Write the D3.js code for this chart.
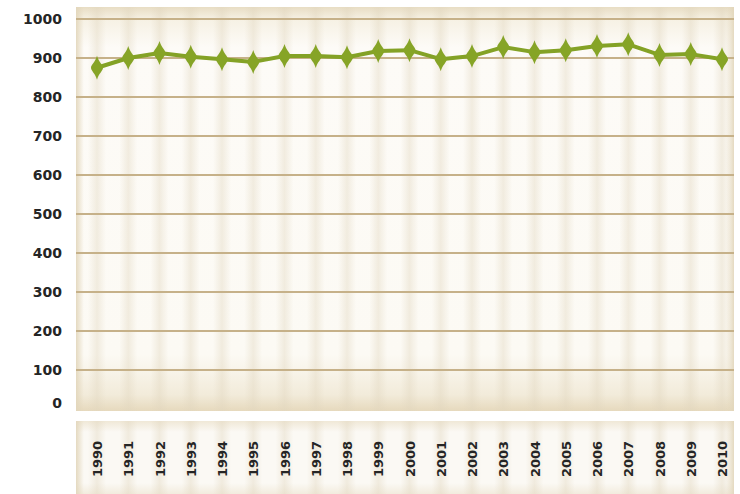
<!DOCTYPE html>
<html><head><meta charset="utf-8">
<script src="https://cdn.jsdelivr.net/npm/d3@7"></script>
<style>html,body{margin:0;padding:0;background:#fff;}svg{display:block;}</style>
</head><body>
<svg id="c" width="740" height="494"></svg>
<script>
const years = ["1990","1991","1992","1993","1994","1995","1996","1997","1998","1999","2000","2001","2002","2003","2004","2005","2006","2007","2008","2009","2010"];
const values = [875,900,913,903,897,890,905,905,902,918,920,897,905,928,915,920,931,935,908,910,897];
const yTicks = [0,100,200,300,400,500,600,700,800,900,1000];

const svg = d3.select("#c");
const plot = {x0:76, x1:734, y0:7, y1:411};
const box = {y0:421, y1:494};
const x = d3.scalePoint().domain(years).range([97,722]);
const y = d3.scaleLinear().domain([0,1000]).range([409,19]);

const defs = svg.append("defs");
const gv = defs.append("linearGradient").attr("id","gv").attr("x1",0).attr("x2",0).attr("y1",0).attr("y2",1);
gv.append("stop").attr("offset","0").attr("stop-color","#e8ddc4");
gv.append("stop").attr("offset","0.03").attr("stop-color","#f6f1e4");
gv.append("stop").attr("offset","0.10").attr("stop-color","#fdfbf7");
gv.append("stop").attr("offset","0.86").attr("stop-color","#fcfaf4");
gv.append("stop").attr("offset","0.96").attr("stop-color","#f2ebda");
gv.append("stop").attr("offset","1").attr("stop-color","#e6d9bd");
const gb = defs.append("linearGradient").attr("id","gb").attr("x1",0).attr("x2",0).attr("y1",0).attr("y2",1);
gb.append("stop").attr("offset","0").attr("stop-color","#f0e8d7");
gb.append("stop").attr("offset","0.15").attr("stop-color","#fbf9f4");
gb.append("stop").attr("offset","0.85").attr("stop-color","#fbf9f4");
gb.append("stop").attr("offset","1").attr("stop-color","#f2ecde");
const gs = defs.append("linearGradient").attr("id","gs").attr("x1",0).attr("x2",1).attr("y1",0).attr("y2",0);
gs.append("stop").attr("offset","0").attr("stop-color","#e0d5bd").attr("stop-opacity",0);
gs.append("stop").attr("offset","0.5").attr("stop-color","#e0d5bd").attr("stop-opacity",0.4);
gs.append("stop").attr("offset","1").attr("stop-color","#e0d5bd").attr("stop-opacity",0);
const ge = defs.append("linearGradient").attr("id","ge").attr("x1",0).attr("x2",1).attr("y1",0).attr("y2",0);
ge.append("stop").attr("offset","0").attr("stop-color","#e2d6bb").attr("stop-opacity",0.9);
ge.append("stop").attr("offset","0.012").attr("stop-color","#e2d6bb").attr("stop-opacity",0);
ge.append("stop").attr("offset","0.988").attr("stop-color","#e2d6bb").attr("stop-opacity",0);
ge.append("stop").attr("offset","1").attr("stop-color","#e2d6bb").attr("stop-opacity",0.9);
defs.append("filter").attr("id","soft").append("feGaussianBlur").attr("stdDeviation",0.5);

svg.append("rect").attr("x",plot.x0).attr("y",plot.y0).attr("width",plot.x1-plot.x0).attr("height",plot.y1-plot.y0).attr("fill","url(#gv)");
svg.append("rect").attr("x",plot.x0).attr("y",box.y0).attr("width",plot.x1-plot.x0).attr("height",box.y1-box.y0).attr("fill","url(#gb)");
[[plot.y0,plot.y1],[box.y0,box.y1]].forEach(([a,b])=>{
  svg.append("g").selectAll("rect").data(years).join("rect")
    .attr("x",d=>x(d)-9).attr("width",18).attr("y",a).attr("height",b-a)
    .attr("fill","url(#gs)");
  svg.append("rect").attr("x",plot.x0).attr("y",a).attr("width",plot.x1-plot.x0).attr("height",b-a).attr("fill","url(#ge)");
});

svg.append("g").attr("filter","url(#soft)").selectAll("line").data(yTicks.filter(d=>d>0)).join("line")
  .attr("x1",plot.x0).attr("x2",plot.x1).attr("y1",d=>y(d)).attr("y2",d=>y(d))
  .attr("stroke","#c6b189").attr("stroke-width",2);

const yAxis = d3.axisLeft(y).tickValues(yTicks).tickSize(0).tickPadding(0).tickFormat(d3.format("d"));
const ya = svg.append("g").attr("transform","translate(62,0)").call(yAxis);
ya.select(".domain").remove();
ya.selectAll("text").attr("font-family","DejaVu Sans, sans-serif").attr("font-weight","bold")
  .attr("font-size","14px").attr("fill","#252525");
ya.selectAll(".tick").filter(d=>d===0).attr("transform","translate(0,404)");

const xAxis = d3.axisBottom(x).tickSize(0).tickPadding(0);
const xa = svg.append("g").attr("transform","translate(0,459)").call(xAxis);
xa.select(".domain").remove();
xa.selectAll("text").attr("font-family","DejaVu Sans, sans-serif").attr("font-weight","bold")
  .attr("font-size","13px").attr("fill","#252525")
  .attr("transform","rotate(-90)").attr("text-anchor","middle").attr("dy","0.35em").attr("y",0).attr("x",0);

const data = years.map((yr,i)=>({yr, v:values[i]}));
const g = svg.append("g").attr("filter","url(#soft)");
g.append("path").datum(data)
  .attr("d",d3.line().x(d=>x(d.yr)).y(d=>y(d.v)))
  .attr("fill","none").attr("stroke","#84a226").attr("stroke-width",4).attr("stroke-linejoin","round");
const marker = "M0,-12 C1.5,-6 6,-3 6,0 C6,3 1.5,6 0,12 C-1.5,6 -6,3 -6,0 C-6,-3 -1.5,-6 0,-12 Z";
g.selectAll("path.m").data(data).join("path").attr("class","m")
  .attr("transform",d=>`translate(${x(d.yr)},${y(d.v)})`)
  .attr("d",marker).attr("fill","#86a428");
</script>
</body></html>
